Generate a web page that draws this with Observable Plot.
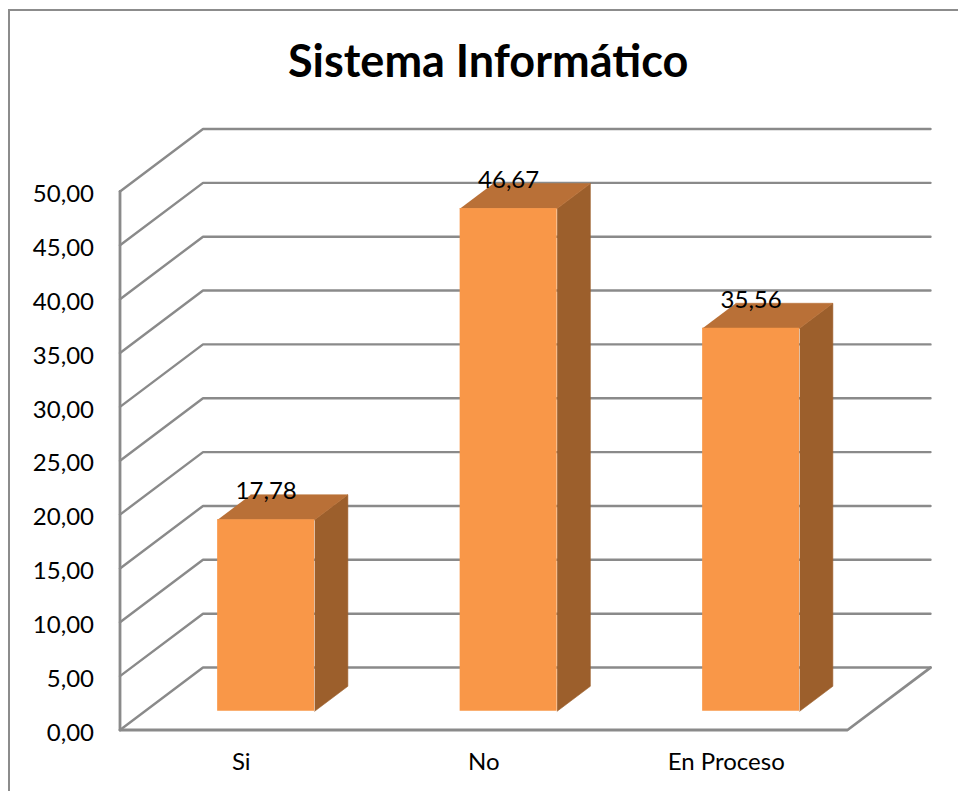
<!DOCTYPE html>
<html lang="es">
<head>
<meta charset="utf-8">
<title>Sistema Informático</title>
<script src="https://cdn.jsdelivr.net/npm/d3@7"></script>
<script src="https://cdn.jsdelivr.net/npm/@observablehq/plot@0.6"></script>
<style>
  html, body { margin: 0; padding: 0; background: #fff; overflow: hidden; }
  #panel { position: absolute; left: 0; top: 0; width: 958px; height: 791px; }
  #border { position: absolute; left: 7.5px; top: 8.5px; right: 0; bottom: 0; border-left: 2px solid #8c8c8c; border-top: 2px solid #8c8c8c; }
  #heading { position: absolute; left: 288px; top: 33px; margin: 0; white-space: nowrap; font: 700 45px Lato, sans-serif; color: #000; }
  #chart { position: absolute; left: 0; top: 0; }
  #chart svg { background: transparent; overflow: visible; }
</style>
</head>
<body>
<div id="panel">
  <div id="border"></div>
  <h1 id="heading">Sistema Informático</h1>
  <div id="chart"></div>
</div>
<script>
const categories = ["Si", "No", "En Proceso"];
const values = [17.78, 46.67, 35.56];
const gridValues = [0, 5, 10, 15, 20, 25, 30, 35, 40, 45, 50];

const fontFamily = "Lato, sans-serif";
const colors = {grid: "#8a8a8a", front: "#f99748", top: "#b97037", side: "#9c5f2c"};

// Oblique projection: one unit of depth moves a point right and up in data units.
const depthX = 0.3423;
const depthY = 5.80;
const project = (slot, value, depth) => ({
  x: slot + depth * depthX,
  y: value + depth * depthY
});

// Bars occupy 0.4 of a category slot and 0.4 of the depth, centred in both.
const gap = 0.3;
const barSize = 0.4;
const comma = d => d.toFixed(2).replace(".", ",");

const walls = gridValues.flatMap(v => [
  {v, ...project(0, v, 0)},
  {v, ...project(0, v, 1)},
  {v, ...project(categories.length, v, 1)}
]);
const floorEdge = [
  project(0, 0, 0),
  project(categories.length, 0, 0),
  project(categories.length, 0, 1)
];
const wallEdge = [project(0, 0, 0), project(0, 50, 0)];

const bars = categories.map((name, i) => ({name, value: values[i], left: i + gap, right: i + gap + barSize}));

const sideFaces = bars.flatMap(b => [
  {name: b.name, ...project(b.right, 0, gap)},
  {name: b.name, ...project(b.right, 0, gap + barSize)},
  {name: b.name, ...project(b.right, b.value, gap + barSize)},
  {name: b.name, ...project(b.right, b.value, gap)}
]);
const topFaces = bars.flatMap(b => [
  {name: b.name, ...project(b.left, b.value, gap)},
  {name: b.name, ...project(b.right, b.value, gap)},
  {name: b.name, ...project(b.right, b.value, gap + barSize)},
  {name: b.name, ...project(b.left, b.value, gap + barSize)}
]);
const frontFaces = bars.map(b => {
  const a = project(b.left, 0, gap);
  const c = project(b.right, b.value, gap);
  return {x1: a.x, x2: c.x, y1: a.y, y2: c.y};
});
const labels = bars.map(b => ({text: comma(b.value), ...project((b.left + b.right) / 2, b.value, gap)}));

const plot = Plot.plot({
  width: 958,
  height: 791,
  marginLeft: 119.5,
  marginRight: 28,
  marginTop: 128.5,
  marginBottom: 61.5,
  style: {fontFamily, background: "transparent"},
  x: {domain: [0, categories.length + depthX]},
  y: {domain: [0, 50 + depthY]},
  marks: [
    Plot.line(walls, {x: "x", y: "y", z: "v", stroke: colors.grid, strokeWidth: 2.4, strokeLinejoin: "miter"}),
    Plot.line(floorEdge, {x: "x", y: "y", stroke: colors.grid, strokeWidth: 2.8, strokeLinejoin: "miter"}),
    Plot.line(wallEdge, {x: "x", y: "y", stroke: colors.grid, strokeWidth: 2.8}),
    Plot.line(sideFaces, {x: "x", y: "y", z: "name", fill: colors.side, stroke: colors.side, strokeWidth: 0.6}),
    Plot.line(topFaces, {x: "x", y: "y", z: "name", fill: colors.top, stroke: colors.top, strokeWidth: 0.6}),
    Plot.rect(frontFaces, {x1: "x1", x2: "x2", y1: "y1", y2: "y2", fill: colors.front, inset: 0}),
    Plot.axisY({
      ticks: gridValues,
      tickFormat: comma,
      tickSize: 0,
      tickPadding: 26,
      dy: 3,
      label: null,
      fontSize: 24,
      fill: "#000",
      fontFamily
    }),
    Plot.axisX({
      ticks: categories.map((_, i) => i + 0.5),
      tickFormat: d => categories[d - 0.5],
      tickSize: 0,
      tickPadding: 23,
      label: null,
      fontSize: 24,
      fill: "#000",
      fontFamily
    }),
    Plot.text(labels, {x: "x", y: "y", text: "text", dy: -28, fontSize: 24, fill: "#000", fontFamily})
  ]
});
document.getElementById("chart").append(plot);
</script>
</body>
</html>
